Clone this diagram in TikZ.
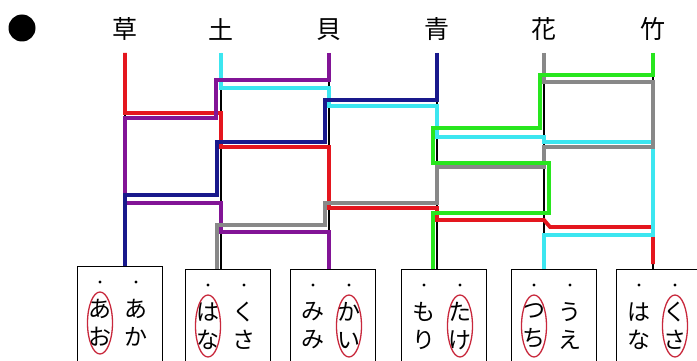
\documentclass[tikz,border=0pt]{standalone}
\usepackage{fontspec}
\newfontfamily\jpfont{Noto Sans CJK JP}
\usetikzlibrary{positioning}
\definecolor{pathred}{RGB}{228,22,30}
\definecolor{pathcyan}{RGB}{60,230,240}
\definecolor{pathpurple}{RGB}{130,20,150}
\definecolor{pathnavy}{RGB}{25,25,140}
\definecolor{pathgrey}{RGB}{136,136,136}
\definecolor{pathgreen}{RGB}{40,230,30}
\definecolor{ringred}{RGB}{200,40,60}

\begin{document}
\begin{tikzpicture}[
    x=1pt, y=-1pt,
    title/.style={font=\jpfont\fontsize{25}{25}\selectfont, inner sep=0pt},
    card/.style={draw, line width=1pt, anchor=north west, minimum width=85pt, minimum height=110pt},
    kana/.style={font=\jpfont\fontsize{23}{28}\selectfont, align=center, inner sep=0pt},
    pin/.style={circle, fill, inner sep=0pt, minimum size=3.2pt},
    ring/.style={draw=ringred, line width=1.3pt},
    rail/.style={line width=1.8pt},
    route/.style={line width=3.8pt}
]
\useasboundingbox (0,0) rectangle (697,361);
\clip (0,0) rectangle (697,361);

\node[circle, fill, inner sep=0pt, minimum size=27pt] (bullet) at (22,28) {};

% column tops and headings
\coordinate (t1) at (125,53);
\coordinate (t2) at (221,53);
\coordinate (t3) at (329,53);
\coordinate (t4) at (437,53);
\coordinate (t5) at (544,53);
\coordinate (t6) at (653,53);
\node[title, above=12pt of t1] (kusa) {草};
\node[title, above=12pt of t2] (tsuchi) {土};
\node[title, above=12pt of t3] (kai) {貝};
\node[title, above=12pt of t4] (ao) {青};
\node[title, above=12pt of t5] (hana) {花};
\node[title, above=12pt of t6] (take) {竹};

% answer cards
\node[card] (card1) at (77,266) {};
\node[card] (card2) at (185,269) {};
\node[card] (card3) at (290,269) {};
\node[card] (card4) at (401,269) {};
\node[card] (card5) at (511,269) {};
\node[card] (card6) at (616,269) {};

% black ladder under the coloured routes
\draw[rail] (t1) -- (t1 |- card1.north);
\draw[rail] (t2) -- (t2 |- card2.north);
\draw[rail] (t3) -- (t3 |- card3.north);
\draw[rail] (t4) -- (t4 |- card4.north);
\draw[rail] (t5) -- (t5 |- card5.north);
\draw[rail] (t6) -- (t6 |- card6.north);

% routes
\draw[route, pathred] (t1) -- (125,113) -- (221,113) -- (221,147) -- (329,147) -- (329,208) -- (437,208) -- (437,220) -- (544,220) -- (550,227) -- (653,227) -- (653,264);
\draw[route, pathcyan] (t2) -- (221,88) -- (329,88) -- (329,106) -- (437,106) -- (437,137) -- (544,137) -- (544,142) -- (653,142) -- (653,235) -- (544,235) -- (t5 |- card5.north);
\draw[route, pathpurple] (t3) -- (329,80) -- (216,80) -- (216,118) -- (125,118) -- (125,203) -- (221,203) -- (221,232) -- (329,232) -- (t3 |- card3.north);
\draw[route, pathnavy] (t4) -- (437,100) -- (325,100) -- (325,142) -- (217,142) -- (217,195) -- (125,195) -- (t1 |- card1.north);
\draw[route, pathgrey] (t5) -- (544,82) -- (653,82) -- (653,147) -- (544,147) -- (544,167) -- (437,167) -- (437,203) -- (325,203) -- (325,225) -- (217,225) -- (217,0 |- card2.north);
\draw[route, pathgreen] (t6) -- (653,75) -- (540,75) -- (540,128) -- (433,128) -- (433,163) -- (549,163) -- (549,213) -- (433,213) -- (433,0 |- card4.north);

% card texts
\node[kana] (w1a) at ([xshift=23pt,yshift=-57pt]card1.north west) {あ\\お};
\node[kana] (w1b) at ([xshift=59pt,yshift=-57pt]card1.north west) {あ\\か};
\node[kana] (w2a) at ([xshift=23pt,yshift=-57pt]card2.north west) {は\\な};
\node[kana] (w2b) at ([xshift=59pt,yshift=-57pt]card2.north west) {く\\さ};
\node[kana] (w3a) at ([xshift=23pt,yshift=-57pt]card3.north west) {み\\み};
\node[kana] (w3b) at ([xshift=59pt,yshift=-57pt]card3.north west) {か\\い};
\node[kana] (w4a) at ([xshift=23pt,yshift=-57pt]card4.north west) {も\\り};
\node[kana] (w4b) at ([xshift=59pt,yshift=-57pt]card4.north west) {た\\け};
\node[kana] (w5a) at ([xshift=23pt,yshift=-57pt]card5.north west) {つ\\ち};
\node[kana] (w5b) at ([xshift=59pt,yshift=-57pt]card5.north west) {う\\え};
\node[kana] (w6a) at ([xshift=23pt,yshift=-57pt]card6.north west) {は\\な};
\node[kana] (w6b) at ([xshift=59pt,yshift=-57pt]card6.north west) {く\\さ};

% dots over each word
\node[pin] (p1a) at ([xshift=23pt,yshift=-16pt]card1.north west) {};
\node[pin] (p1b) at ([xshift=59pt,yshift=-16pt]card1.north west) {};
\node[pin] (p2a) at ([xshift=23pt,yshift=-16pt]card2.north west) {};
\node[pin] (p2b) at ([xshift=59pt,yshift=-16pt]card2.north west) {};
\node[pin] (p3a) at ([xshift=23pt,yshift=-16pt]card3.north west) {};
\node[pin] (p3b) at ([xshift=59pt,yshift=-16pt]card3.north west) {};
\node[pin] (p4a) at ([xshift=23pt,yshift=-16pt]card4.north west) {};
\node[pin] (p4b) at ([xshift=59pt,yshift=-16pt]card4.north west) {};
\node[pin] (p5a) at ([xshift=23pt,yshift=-16pt]card5.north west) {};
\node[pin] (p5b) at ([xshift=59pt,yshift=-16pt]card5.north west) {};
\node[pin] (p6a) at ([xshift=23pt,yshift=-16pt]card6.north west) {};
\node[pin] (p6b) at ([xshift=59pt,yshift=-16pt]card6.north west) {};

% circled answers
\draw[ring] (w1a) ellipse [x radius=12.5, y radius=31];
\draw[ring] (w2a) ellipse [x radius=12.5, y radius=31];
\draw[ring] (w3b) ellipse [x radius=12.5, y radius=31];
\draw[ring] (w4b) ellipse [x radius=12.5, y radius=31];
\draw[ring] (w5a) ellipse [x radius=12.5, y radius=31];
\draw[ring] (w6b) ellipse [x radius=12.5, y radius=31];
\end{tikzpicture}
\end{document}
